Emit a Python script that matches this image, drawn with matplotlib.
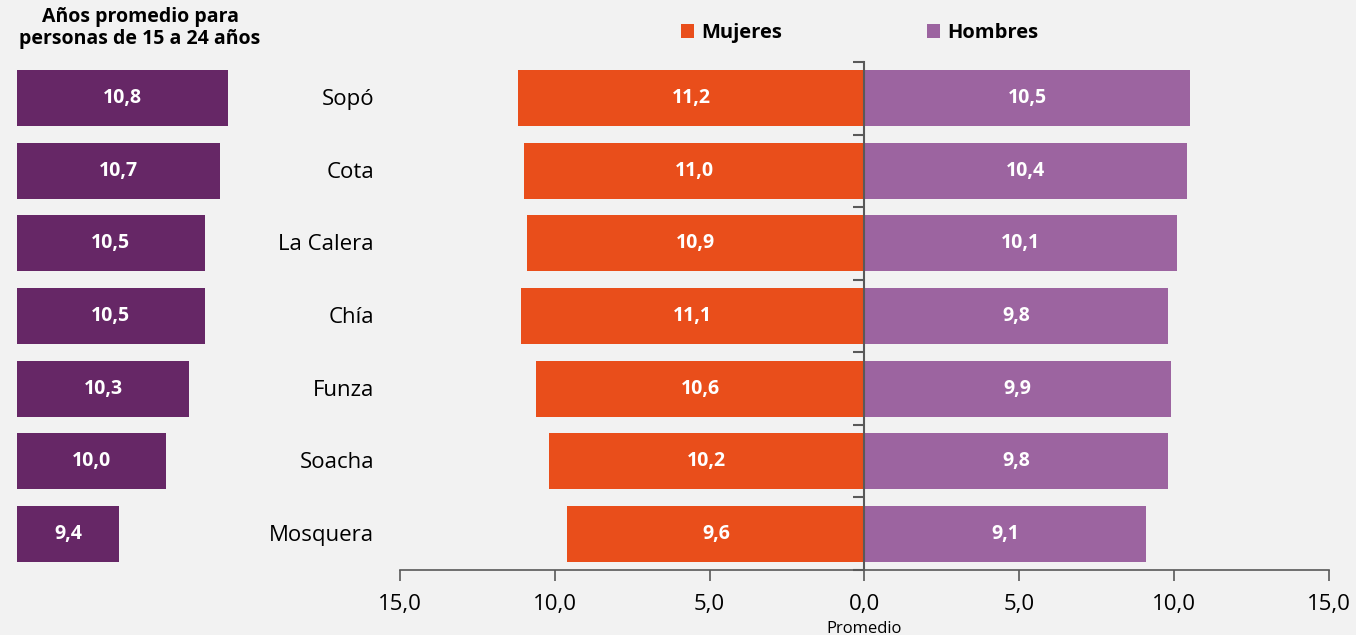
import matplotlib
matplotlib.use('Agg')
import matplotlib.pyplot as plt
from matplotlib.ticker import FuncFormatter

plt.rcParams['font.family'] = ['Open Sans', 'DejaVu Sans']

# datos
municipios = ['Sopó', 'Cota', 'La Calera', 'Chía', 'Funza', 'Soacha', 'Mosquera']
promedio_total = [10.8, 10.7, 10.5, 10.5, 10.3, 10.0, 9.4]
mujeres = [11.2, 11.0, 10.9, 11.1, 10.6, 10.2, 9.6]
hombres = [10.5, 10.4, 10.1, 9.8, 9.9, 9.8, 9.1]
ticks_x = [-15, -10, -5, 0, 5, 10, 15]

FONDO = '#f2f2f2'
C_MUJ = '#e94e1b'
C_HOM = '#9c64a0'
C_TOT = '#662766'
C_EJE = '#595959'

def fmt(v):
    return f'{abs(v):.1f}'.replace('.', ',')

W, H = 1356, 635
fig = plt.figure(figsize=(W / 100, H / 100), dpi=100, facecolor=FONDO)

# panel principal (pirámide)
ax = fig.add_axes([400 / W, 1 - 570 / H, 929 / W, 508 / H], facecolor=FONDO)
y = list(range(len(municipios)))
b1 = ax.barh(y, [-m for m in mujeres], height=0.77, color=C_MUJ, label='Mujeres')
b2 = ax.barh(y, hombres, height=0.77, color=C_HOM, label='Hombres')
ax.bar_label(b1, labels=[fmt(v) for v in mujeres], label_type='center',
             color='white', fontsize=14, fontweight='bold')
ax.bar_label(b2, labels=[fmt(v) for v in hombres], label_type='center',
             color='white', fontsize=14, fontweight='bold')

ax.set_xlim(-15, 15)
ax.set_ylim(len(municipios) - 0.5, -0.5)
ax.set_xticks(ticks_x)
ax.xaxis.set_major_formatter(FuncFormatter(lambda v, p: fmt(v)))
ax.tick_params(axis='x', direction='out', length=8, width=1.2, color=C_EJE,
               labelsize=16, pad=9)
ax.set_yticks([i - 0.5 for i in range(len(municipios) + 1)])
ax.set_yticklabels([])
ax.tick_params(axis='y', direction='out', length=8, width=1.5, color=C_EJE)
ax.spines['left'].set_position(('data', 0))
ax.spines['left'].set_color(C_EJE)
ax.spines['left'].set_linewidth(1.5)
ax.spines['bottom'].set_color(C_EJE)
ax.spines['bottom'].set_linewidth(1.2)
ax.spines['top'].set_visible(False)
ax.spines['right'].set_visible(False)
ax.set_axisbelow(False)

for i, nombre in enumerate(municipios):
    ax.text(-26 / 929, i + 0.02, nombre, transform=ax.get_yaxis_transform(),
            ha='right', va='center', fontsize=16)

ax.text(0, -0.1, 'Promedio', transform=ax.get_xaxis_transform(),
        ha='center', va='top', fontsize=12)

ax.legend(handles=[b1, b2], loc='center', bbox_to_anchor=(860 / W, 1 - 33 / H),
          bbox_transform=fig.transFigure, ncol=2, frameon=False,
          handlelength=0.65, handleheight=0.65, handletextpad=0.35,
          columnspacing=7.2, prop={'size': 14.5, 'weight': 'bold'})

# panel izquierdo (promedio total)
ax2 = fig.add_axes([17 / W, 1 - 570 / H, 240 / W, 508 / H], facecolor='none')
origen = 8.09
escala = 77.9
b3 = ax2.barh(y, [v - origen for v in promedio_total], left=origen, height=0.77,
              color=C_TOT)
ax2.bar_label(b3, labels=[fmt(v) for v in promedio_total], label_type='center',
              color='white', fontsize=14, fontweight='bold')
ax2.set_xlim(origen, origen + 240 / escala)
ax2.set_ylim(len(municipios) - 0.5, -0.5)
ax2.axis('off')

fig.text(140 / W, 1 - 7 / H, 'Años promedio para\npersonas de 15 a 24 años',
         ha='center', va='top', fontsize=14, fontweight='bold', linespacing=1.15)

fig.savefig('out.png', dpi=100, facecolor=FONDO)
plt.close(fig)
